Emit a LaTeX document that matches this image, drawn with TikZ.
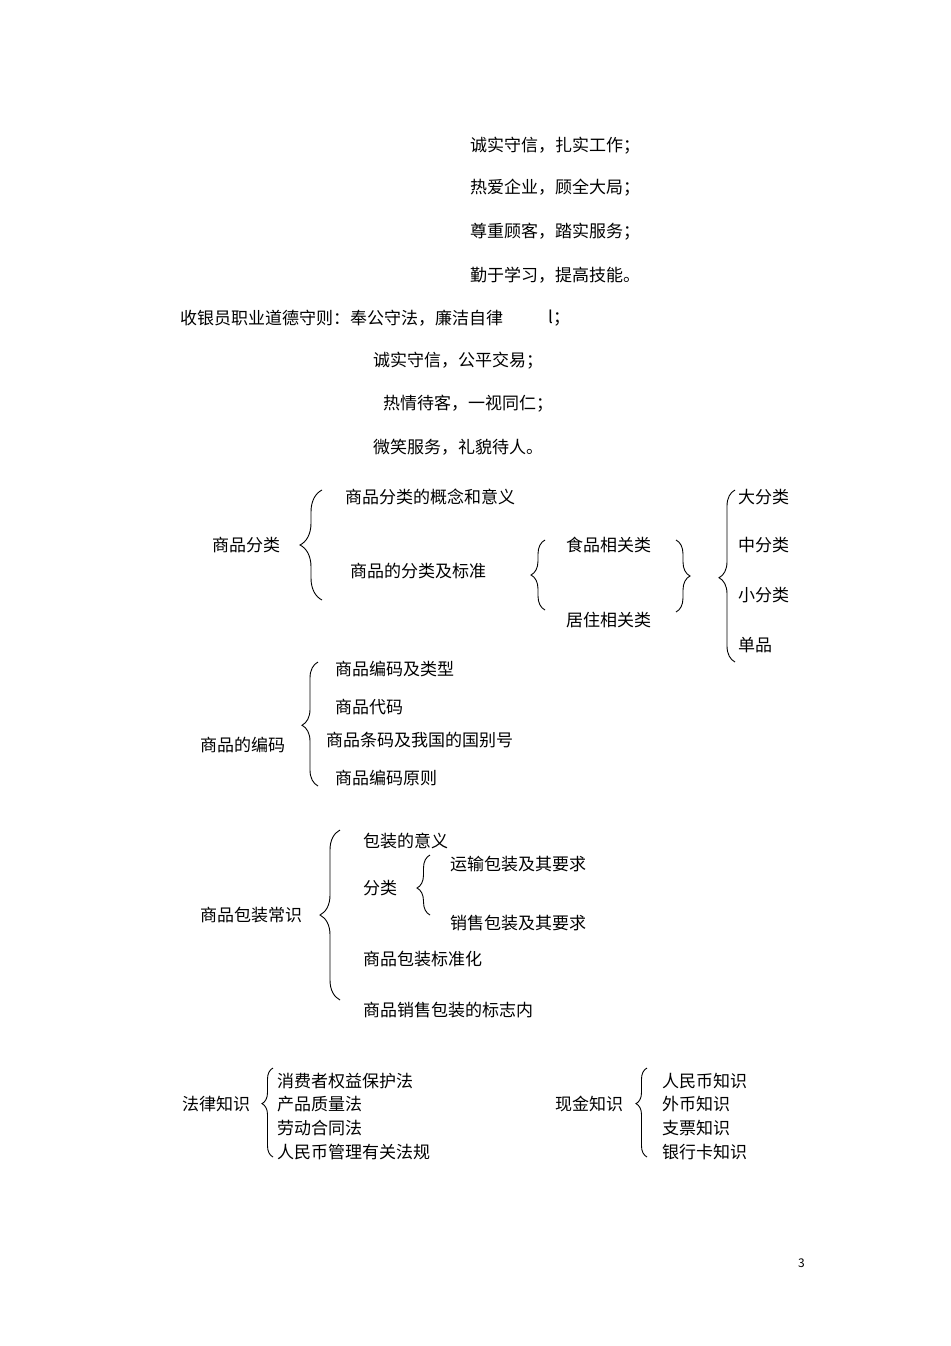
\documentclass[tikz,border=0pt]{standalone}
\usepackage{fontspec}
\setmainfont{Noto Sans CJK SC}
\usetikzlibrary{decorations.pathreplacing}
\begin{document}
\begin{tikzpicture}[x=1pt,y=-1pt,
  t/.style={anchor=west,inner sep=0pt,font=\fontsize{17}{20}\selectfont},
  brc/.style={draw,line width=0.9pt,decorate,decoration={brace,amplitude=#1}}]
\useasboundingbox[fill=white] (0,0) rectangle (950,1346);
\node[t] (a1) at (470,146) {诚实守信，扎实工作；};
\node[t] (a2) at (470,188) {热爱企业，顾全大局；};
\node[t] (a3) at (470,232) {尊重顾客，踏实服务；};
\node[t] (a4) at (470,275) {勤于学习，提高技能。};
\node[t] (b0) at (180,318) {收银员职业道德守则：奉公守法，廉洁自律};
\node[t] (b0x) at (548,318) {l；};
\node[t] (b1) at (373,361) {诚实守信，公平交易；};
\node[t] (b2) at (383,404) {热情待客，一视同仁；};
\node[t] (b3) at (373,447) {微笑服务，礼貌待人。};
% 商品分类
\node[t] (c0) at (212,545) {商品分类};
\draw[brc=22pt,decoration={aspect=0.5}] (322,600) -- (322,490);
\node[t] (c1) at (345,497) {商品分类的概念和意义};
\node[t] (c2) at (350,571) {商品的分类及标准};
\draw[brc=14pt,decoration={aspect=0.5}] (545,610) -- (545,540);
\node[t] (c3) at (566,545) {食品相关类};
\node[t] (c4) at (566,620) {居住相关类};
\draw[brc=14pt,decoration={aspect=0.5}] (676,540) -- (676,612);
\draw[brc=16pt,decoration={aspect=0.49}] (735,662) -- (735,490);
\node[t] (d1) at (738,497) {大分类};
\node[t] (d2) at (738,545) {中分类};
\node[t] (d3) at (738,595) {小分类};
\node[t] (d4) at (738,645) {单品};
% 编码
\node[t] (e0) at (200,745) {商品的编码};
\draw[brc=16pt,decoration={aspect=0.49}] (318,786) -- (318,662);
\node[t] (e1) at (335,669) {商品编码及类型};
\node[t] (e2) at (335,707) {商品代码};
\node[t] (e3) at (326,740) {商品条码及我国的国别号};
\node[t] (e4) at (335,778) {商品编码原则};
% 包装
\node[t] (f0) at (200,915) {商品包装常识};
\draw[brc=20pt,decoration={aspect=0.5}] (340,1000) -- (340,830);
\node[t] (f1) at (363,841) {包装的意义};
\node[t] (f2) at (363,888) {分类};
\draw[brc=13pt,decoration={aspect=0.45}] (430,915) -- (430,855);
\node[t] (f3) at (450,864) {运输包装及其要求};
\node[t] (f4) at (450,923) {销售包装及其要求};
\node[t] (f5) at (363,959) {商品包装标准化};
\node[t] (f6) at (363,1010) {商品销售包装的标志内};
% 法律
\node[t] (g0) at (182,1104) {法律知识};
\draw[brc=11pt,decoration={aspect=0.6}] (273,1157) -- (273,1068);
\node[t] (g1) at (277,1081) {消费者权益保护法};
\node[t] (g2) at (277,1104) {产品质量法};
\node[t] (g3) at (277,1128) {劳动合同法};
\node[t] (g4) at (277,1152) {人民币管理有关法规};
\node[t] (h0) at (555,1104) {现金知识};
\draw[brc=11pt,decoration={aspect=0.6}] (647,1157) -- (647,1068);
\node[t] (h1) at (662,1081) {人民币知识};
\node[t] (h2) at (662,1104) {外币知识};
\node[t] (h3) at (662,1128) {支票知识};
\node[t] (h4) at (662,1152) {银行卡知识};
\node[anchor=west,inner sep=0pt,font=\fontsize{12}{14}\selectfont] (pg) at (798,1263) {3};
\end{tikzpicture}
\end{document}
